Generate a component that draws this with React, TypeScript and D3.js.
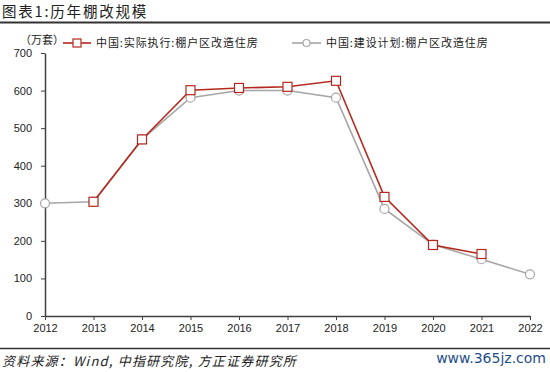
import React, { useEffect, useRef } from 'react';
import * as d3 from 'd3';

const years = [2012, 2013, 2014, 2015, 2016, 2017, 2018, 2019, 2020, 2021, 2022];
// 实际执行 (null = no value)
const actual: (number | null)[] = [null, 304, 470, 601, 607, 610, 626, 317, 189, 165, null];
// 建设计划
const plan: (number | null)[] = [300, 304, 470, 581, 600, 600, 581, 285, 190, 151, 111];
const yTicks = [0, 100, 200, 300, 400, 500, 600, 700];

const RED = '#B5281E';
const GREY = '#A6A6A6';
const AXIS = '#404040';
const CJK = '"Noto Sans CJK SC", sans-serif';
const NUM = '"Liberation Sans", Arial, sans-serif';

const M = { top: 53, left: 45, right: 20, bottom: 56 };

export default function App() {
  const ref = useRef<SVGSVGElement>(null);

  useEffect(() => {
    const el = ref.current;
    if (!el) return;
    const width = 550;
    const height = 372;
    const svg = d3.select(el);
    svg.selectAll('*').remove();

    const x = d3.scaleLinear().domain([2012, 2022]).range([M.left, 530]);
    const y = d3.scaleLinear().domain([0, 700]).range([316, M.top]);

    svg.append('rect').attr('width', width).attr('height', height).attr('fill', '#fff');

    // title
    svg.append('text')
      .attr('x', 2).attr('y', 17)
      .attr('font-family', CJK).attr('font-size', 14.5).attr('font-weight', 400)
      .attr('letter-spacing', 1.8)
      .attr('fill', '#222')
      .text('图表1:历年棚改规模');
    svg.append('line')
      .attr('x1', 0).attr('x2', 550).attr('y1', 22.5).attr('y2', 22.5)
      .attr('stroke', '#333').attr('stroke-width', 2);

    // axes
    const yAxis = svg.append('g').attr('transform', `translate(${M.left},0)`)
      .call(d3.axisLeft(y).tickValues(yTicks).tickSize(4).tickSizeOuter(0));
    yAxis.select('.domain').attr('stroke', AXIS).attr('stroke-width', 1.5);
    yAxis.selectAll('line').attr('stroke', AXIS);
    yAxis.selectAll('text').attr('font-family', NUM).attr('font-size', 11).attr('fill', '#222').attr('x', -13);

    const xAxis = svg.append('g').attr('transform', `translate(0,${y(0)})`)
      .call(d3.axisBottom(x).tickValues(years).tickFormat(d3.format('d')).tickSize(4).tickSizeOuter(0));
    xAxis.select('.domain').attr('stroke', AXIS).attr('stroke-width', 1.5);
    xAxis.selectAll('line').attr('stroke', AXIS);
    xAxis.selectAll('text').attr('font-family', NUM).attr('font-size', 11).attr('fill', '#222').attr('y', 8);

    const line = d3.line<[number, number | null]>()
      .defined((d) => d[1] != null)
      .x((d) => x(d[0]))
      .y((d) => y(d[1] as number));

    const planPts = years.map((yr, i) => [yr, plan[i]] as [number, number | null]);
    const actPts = years.map((yr, i) => [yr, actual[i]] as [number, number | null]);

    svg.append('path').datum(planPts).attr('d', line).attr('fill', 'none')
      .attr('stroke', GREY).attr('stroke-width', 1.6);
    svg.append('path').datum(actPts).attr('d', line).attr('fill', 'none')
      .attr('stroke', RED).attr('stroke-width', 1.6);

    svg.append('g').selectAll('circle')
      .data(planPts.filter((d) => d[1] != null))
      .join('circle')
      .attr('cx', (d) => x(d[0])).attr('cy', (d) => y(d[1] as number))
      .attr('r', 4.5).attr('fill', '#fff').attr('stroke', GREY).attr('stroke-width', 1.2);

    svg.append('g').selectAll('rect')
      .data(actPts.filter((d) => d[1] != null))
      .join('rect')
      .attr('x', (d) => x(d[0]) - 4.5).attr('y', (d) => y(d[1] as number) - 4.5)
      .attr('width', 9).attr('height', 9)
      .attr('fill', '#fff').attr('stroke', RED).attr('stroke-width', 1.2);

    // unit + legend
    svg.append('text').attr('x', 20).attr('y', 44)
      .attr('font-family', CJK).attr('font-size', 11).attr('fill', '#222').text('（万套）');
    const lg = svg.append('g').attr('font-family', CJK).attr('font-size', 11)
      .attr('letter-spacing', 0.9).attr('fill', '#222');
    lg.append('line').attr('x1', 63).attr('x2', 91).attr('y1', 43).attr('y2', 43)
      .attr('stroke', RED).attr('stroke-width', 1.6);
    lg.append('rect').attr('x', 73).attr('y', 39).attr('width', 8).attr('height', 8)
      .attr('fill', '#fff').attr('stroke', RED).attr('stroke-width', 1.2);
    lg.append('text').attr('x', 96).attr('y', 47).text('中国:实际执行:棚户区改造住房');
    lg.append('line').attr('x1', 292).attr('x2', 321).attr('y1', 43).attr('y2', 43)
      .attr('stroke', GREY).attr('stroke-width', 1.6);
    lg.append('circle').attr('cx', 306.5).attr('cy', 43).attr('r', 3.5)
      .attr('fill', '#fff').attr('stroke', GREY).attr('stroke-width', 1.2);
    lg.append('text').attr('x', 326).attr('y', 47).text('中国:建设计划:棚户区改造住房');

    // footer
    svg.append('line')
      .attr('x1', 0).attr('x2', 550).attr('y1', 348.5).attr('y2', 348.5)
      .attr('stroke', '#333').attr('stroke-width', 1.5);
    svg.append('text').attr('x', 2).attr('y', 366)
      .attr('font-family', CJK).attr('font-size', 13).attr('font-style', 'italic')
      .attr('letter-spacing', 1.2).attr('fill', '#222')
      .text('资料来源：Wind, 中指研究院, 方正证券研究所');
    svg.append('text').attr('x', 546).attr('y', 363).attr('text-anchor', 'end')
      .attr('font-family', '"DejaVu Sans", sans-serif').attr('font-size', 14).attr('fill', '#1F4E8C')
      .text('www.365jz.com');
  }, []);

  return (
    <svg ref={ref} width={550} height={372}
      style={{ position: 'absolute', left: 0, top: 0, display: 'block' }} />
  );
}
